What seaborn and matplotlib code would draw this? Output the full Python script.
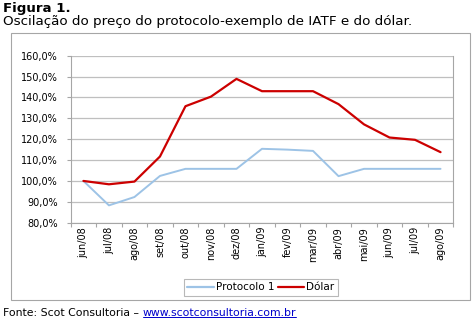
import matplotlib
matplotlib.use("Agg")
import matplotlib.pyplot as plt
import seaborn as sns
import pandas as pd
import numpy as np
from matplotlib.lines import Line2D
from matplotlib.patches import Rectangle
from matplotlib.ticker import FixedLocator

months = ["jun/08", "jul/08", "ago/08", "set/08", "out/08", "nov/08", "dez/08",
          "jan/09", "fev/09", "mar/09", "abr/09", "mai/09", "jun/09", "jul/09", "ago/09"]
protocolo = [100.0, 88.3, 92.3, 102.4, 105.8, 105.8, 105.8, 115.4, 115.0, 114.4,
             102.3, 105.8, 105.8, 105.8, 105.8]
dolar = [100.0, 98.4, 99.7, 111.7, 135.8, 140.4, 148.9, 143.0, 143.0, 143.0,
         136.8, 127.1, 120.8, 119.7, 113.8]
y_ticks = [80, 90, 100, 110, 120, 130, 140, 150, 160]

sns.set_theme(style="white")
plt.rcParams['font.family'] = ['DejaVu Sans']
plt.rcParams['text.color'] = 'black'
plt.rcParams['xtick.color'] = 'black'
plt.rcParams['ytick.color'] = 'black'
plt.rcParams['xtick.labelcolor'] = 'black'
plt.rcParams['ytick.labelcolor'] = 'black'

fig = plt.figure(figsize=(4.76, 3.22), dpi=100)
fig.patch.set_facecolor("white")

# outer chart frame
fig.add_artist(Rectangle((0.0225, 0.0683), 0.965, 0.828, transform=fig.transFigure,
                         fill=False, edgecolor="#A6A6A6", linewidth=0.8))

ax = fig.add_axes([0.1485, 0.3084, 0.8038, 0.5186])
x = np.arange(len(months))
df = pd.DataFrame({"x": np.concatenate([x, x]),
                   "v": protocolo + dolar,
                   "serie": ["Protocolo 1"] * len(x) + ["Dólar"] * len(x)})
sns.lineplot(data=df, x="x", y="v", hue="serie", ax=ax,
             palette={"Protocolo 1": "#9DC3E6", "Dólar": "#CC0000"},
             linewidth=1.6, legend=False)
ax.lines[0].set_linewidth(1.4)

ax.set_xlim(-0.5, len(months) - 0.5)
ax.set_ylim(80, 160)
ax.set_yticks(y_ticks)
ax.set_yticklabels([f"{v:.1f}".replace(".", ",") + "%" for v in y_ticks], fontsize=7,
                   color="black")
ax.set_xticks(x)
ax.set_xticklabels(months, rotation=90, fontsize=7, color="black")
ax.xaxis.set_minor_locator(FixedLocator(np.arange(-0.5, len(months), 1.0)))
ax.tick_params(axis="x", which="major", length=0, pad=3)
ax.tick_params(axis="x", which="minor", length=3, color="#A6A6A6", width=0.8, bottom=True)
ax.tick_params(axis="y", length=3, color="#A6A6A6", width=0.8, left=True, pad=6)
ax.set_xlabel("")
ax.set_ylabel("")
ax.grid(axis="y", color="#BFBFBF", linewidth=0.9)
ax.grid(axis="x", visible=False)
for s in ["left", "bottom", "right"]:
    ax.spines[s].set_color("#A6A6A6")
    ax.spines[s].set_linewidth(0.8)
ax.spines["top"].set_visible(False)

handles = [Line2D([], [], color="#9DC3E6", linewidth=1.6),
           Line2D([], [], color="#CC0000", linewidth=1.6)]
leg = fig.legend(handles, ["Protocolo 1", "Dólar"], loc="center",
                 bbox_to_anchor=(261 / 476, 1 - 287.5 / 322), ncol=2, fontsize=7.5,
                 frameon=True, fancybox=False, handlelength=2.5, handletextpad=0.2,
                 columnspacing=0.4, borderpad=0.35, labelcolor="black")
leg.get_frame().set_edgecolor("#A6A6A6")
leg.get_frame().set_linewidth(0.8)

fig.text(3 / 476, 1 - 8.5 / 322, "Figura 1.", fontsize=9.6, fontweight="bold", va="center",
         color="black")
fig.text(3 / 476, 1 - 21.5 / 322, "Oscilação do preço do protocolo-exemplo de IATF e do dólar.",
         fontsize=9.7, va="center", color="black")

t1 = fig.text(3 / 476, 1 - 313 / 322, "Fonte: Scot Consultoria – ", fontsize=7.85,
              va="center", color="black")
fig.canvas.draw()
bb = t1.get_window_extent()
x2 = bb.x1 / fig.bbox.width
t2 = fig.text(x2, 1 - 313 / 322, "www.scotconsultoria.com.br", fontsize=7.85,
              va="center", color="#0000CC")
fig.canvas.draw()
bb2 = t2.get_window_extent()
yline = (bb2.y0 + 1.0) / fig.bbox.height
fig.add_artist(Line2D([bb2.x0 / fig.bbox.width, bb2.x1 / fig.bbox.width], [yline, yline],
                      transform=fig.transFigure, color="#0000CC", linewidth=0.7))

fig.savefig("out.png", dpi=100)
